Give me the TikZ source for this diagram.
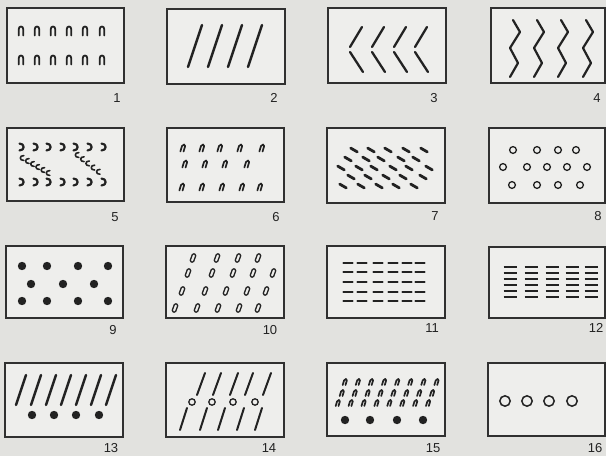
\documentclass[tikz,border=0pt]{standalone}
\usepackage{fontspec}
\setmainfont{Liberation Sans}
\definecolor{bgc}{HTML}{E2E2DF}
\definecolor{boxc}{HTML}{EEEEEC}
\definecolor{inkc}{HTML}{222222}
\definecolor{framec}{HTML}{303030}
\newcommand\myarch[4]{% x, y, halfwidth, halfheight
  \draw[ink,line width=1.7pt,shift={(#1,#2)},xslant=0.3] (-#3,#4) -- (-#3,-#4+#3) .. controls (-#3,-#4-0.5) and (#3,-#4-0.5) .. (#3,-#4+#3) -- (#3,#4);}
\begin{document}
\begin{tikzpicture}[x=1pt,y=-1pt,
  ink/.style={draw=inkc,line width=1.6pt,line cap=round,line join=round},
  frame/.style={draw=framec,line width=1.7pt,fill=boxc},
  lab/.style={font=\fontsize{13}{14}\selectfont,text=inkc,inner sep=0pt},
  dotf/.style={fill=inkc},
  ring/.style={draw=inkc,line width=1.3pt}]
\fill[bgc] (0,0) rectangle (606,456);
\useasboundingbox (0,0) rectangle (606,456);
% frames
\draw[frame] (7,8) rectangle (124,83);
\draw[frame] (167,9) rectangle (285,84);
\draw[frame] (328,8) rectangle (446,83);
\draw[frame] (491,8) rectangle (605,83);
\draw[frame] (7,128) rectangle (124,201);
\draw[frame] (167,128) rectangle (284,202);
\draw[frame] (327,128) rectangle (445,203);
\draw[frame] (489,128) rectangle (605,203);
\draw[frame] (6,246) rectangle (123,318);
\draw[frame] (166,246) rectangle (284,318);
\draw[frame] (327,246) rectangle (445,318);
\draw[frame] (489,247) rectangle (605,318);
\draw[frame] (5,363) rectangle (123,437);
\draw[frame] (166,363) rectangle (284,437);
\draw[frame] (327,363) rectangle (445,436);
\draw[frame] (488,363) rectangle (605,436);
% labels
\node[lab] (l1) at (117,98) {1};
\node[lab] (l2) at (274,98) {2};
\node[lab] (l3) at (434,98) {3};
\node[lab] (l4) at (597,98) {4};
\node[lab] (l5) at (115,217) {5};
\node[lab] (l6) at (276,217) {6};
\node[lab] (l7) at (435,216) {7};
\node[lab] (l8) at (598,216) {8};
\node[lab] (l9) at (113,330) {9};
\node[lab] (l10) at (270,330) {10};
\node[lab] (l11) at (432,328) {11};
\node[lab] (l12) at (596,328) {12};
\node[lab] (l13) at (111,448) {13};
\node[lab] (l14) at (269,448) {14};
\node[lab] (l15) at (433,448) {15};
\node[lab] (l16) at (595,448) {16};
% panel 1
\foreach \x in {21,37,53,69,85,102}{
  \foreach \y in {31,60}{
    \draw[ink,line width=1.8pt,shift={(\x,\y)}] (-2.2,4.5) -- (-2.2,-2) .. controls (-2.2,-5.3) and (2.2,-5.3) .. (2.2,-2) -- (2.2,4.5);
  }}
% panel 2
\foreach \x in {188,208,228,248}{
  \draw[ink,line width=2.5pt] (\x,67) -- (\x+14,25);}
% panel 3
\foreach \x in {350,372,394,415}{
  \draw[ink,line width=2.3pt] (\x+12,27) -- (\x,47);
  \draw[ink,line width=2.3pt] (\x,52) -- (\x+13,72);}
% panel 4
\foreach \x in {513,537,561,586}{
  \draw[ink,line width=2.2pt] (\x,20) -- (\x+7,32) -- (\x-3,48) -- (\x+5,63) -- (\x-3,77);}
% panel 5
\foreach \x in {21,35,48,62,75,89,103}{
  \draw[ink,line width=2.2pt,shift={(\x,147)}] (-1.5,-3.5) .. controls (4,-3.5) and (4,3.5) .. (-1.5,3.5);
  \draw[ink,line width=2.2pt,shift={(\x,182)}] (-1.5,-3.5) .. controls (4,-3.5) and (4,3.5) .. (-1.5,3.5);}
\foreach \i in {0,...,5}{
  \draw[ink,line width=1.6pt,shift={(22+5.2*\i,158+3*\i)}] (1.8,-2.4) .. controls (-2.8,-2.8) and (-2.8,2.8) .. (1.8,2.4);}
\foreach \i in {0,...,4}{
  \draw[ink,line width=1.6pt,shift={(77+5.3*\i,155+4.2*\i)}] (1.8,-2.4) .. controls (-2.8,-2.8) and (-2.8,2.8) .. (1.8,2.4);}
% panel 6
\foreach \x in {183,202,220,240,262}{\myarch{\x}{148}{1.6}{3.5}}
\foreach \x in {185,205,225,247}{\myarch{\x}{164}{1.6}{3.5}}
\foreach \x in {182,202,222,242,260}{\myarch{\x}{187}{1.6}{3.5}}
% panel 7
\foreach \x/\y in {354/150,371/150,388/150,406/150,424/150,
                   348/159,366/159,381/159,401/159,416/159,
                   341/168,359/168,374/168,393/168,409/168,429/168,
                   351/177,368/177,386/177,403/177,423/177,
                   343/186,361/186,379/186,396/186,414/186}{
  \draw[ink,line width=2.8pt] (\x-3.3,\y-1.9) -- (\x+3.3,\y+1.9);}
% panel 8
\foreach \x in {513,537,558,576}{\draw[ring] (\x,150) circle (3.4);}
\foreach \x in {503,527,547,567,587}{\draw[ring] (\x,167) circle (3.4);}
\foreach \x in {512,537,558,580}{\draw[ring] (\x,185) circle (3.4);}
% panel 9
\foreach \x in {22,47,78,108}{\fill[dotf] (\x,266) circle (4.2); \fill[dotf] (\x,301) circle (4.2);}
\foreach \x in {31,63,94}{\fill[dotf] (\x,284) circle (4.2);}
% panel 10
\foreach \x/\y in {193/258,217/258,238/258,258/258,
                   188/273,212/273,233/273,253/273,273/273,
                   182/291,205/291,226/291,247/291,266/291,
                   175/308,197/308,218/308,239/308,258/308}{
  \draw[draw=inkc,line width=1.3pt,shift={(\x,\y)},rotate=-20,rounded corners=1.2pt] (-1.8,-4.2) rectangle (1.8,4.2);}
% panel 11
\foreach \y in {263,272,282,292,301}{
  \foreach \x in {348,362,378,393,407,420}{
    \draw[ink,line width=2.2pt] (\x-4.5,\y) -- (\x+4.5,\y);}}
% panel 12
\foreach \x in {510,531,552,572,591}{
  \foreach \i in {0,...,5}{
    \draw[draw=inkc,line width=2.8pt] (\x-6.5,267+6*\i) -- (\x+6.5,267+6*\i);}}
% panel 13
\foreach \i in {0,...,6}{
  \draw[ink,line width=2.4pt] (16+15*\i,405) -- (26+15*\i,375);}
\foreach \x in {32,54,76,99}{\fill[dotf] (\x,415) circle (4.2);}
% panel 14
\foreach \x in {197,213,230,245,263}{\draw[ink,line width=2pt] (\x,395) -- (\x+8,373);}
\foreach \x in {192,212,233,255}{\draw[ring] (\x,402) circle (3.2);}
\foreach \x in {180,200,218,237,255}{\draw[ink,line width=2pt] (\x,430) -- (\x+7,408);}
% panel 15
\foreach \i in {0,...,7}{
  \myarch{345+13.1*\i}{382}{1.4}{3}
  \myarch{342+12.9*\i}{393}{1.4}{3}
  \myarch{338+12.9*\i}{403}{1.4}{3}}
\foreach \x in {345,370,397,423}{\fill[dotf] (\x,420) circle (4.2);}
% panel 16
\foreach \x in {505,527,549,572}{\draw[ring,line width=1.5pt] (\x,401) circle (5.2);}
\end{tikzpicture}
\end{document}
